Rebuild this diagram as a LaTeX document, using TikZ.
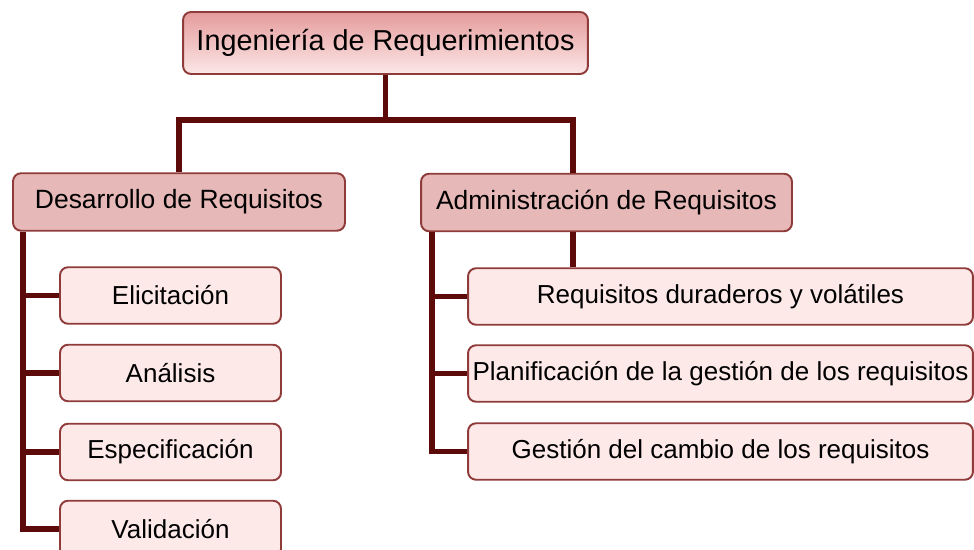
\documentclass[tikz,border=0pt]{standalone}
\usepackage{fontspec}
\setmainfont{Liberation Sans}

\definecolor{linkred}{HTML}{5C0A0A}
\definecolor{edgered}{HTML}{8E3B3A}
\definecolor{midfill}{HTML}{E6B8B7}
\definecolor{leaffill}{HTML}{FDE9E8}
\definecolor{topfillA}{HTML}{E59B9B}
\definecolor{topfillB}{HTML}{FCE7E7}

\tikzset{
  box/.style={draw=edgered, line width=1.1pt, rounded corners=0.16cm, inner sep=0pt, align=center},
  rootbox/.style={box, top color=topfillA, bottom color=topfillB, minimum width=8.1cm, minimum height=1.24cm, font=\fontsize{16.4}{19}\selectfont},
  groupbox/.style={box, fill=midfill, minimum height=1.15cm, font=\fontsize{15.05}{18}\selectfont},
  leafbox/.style={box, fill=leaffill, minimum height=1.13cm, font=\fontsize{14.8}{17}\selectfont},
  link/.style={draw=linkred, line width=3.4pt},
}

\begin{document}
\begin{tikzpicture}[x=0.02cm, y=-0.02cm]
    \useasboundingbox (0,0) rectangle (974,550);

    % Raíz
    \node[rootbox] (ing) at (385.5,43) {Ingeniería de Requerimientos};

    % Ramas
    \node[groupbox, minimum width=6.64cm] (des) at (179,202) {Desarrollo de Requisitos};
    \node[groupbox, minimum width=7.42cm] (adm) at (606.5,202.5) {Administración de Requisitos};

    % Desarrollo
    \node[leafbox, minimum width=4.42cm] (eli) at (170.5,295.5) {Elicitación};
    \node[leafbox, minimum width=4.42cm] (ana) at (170.5,373) {Análisis};
    \node[leafbox, minimum width=4.42cm] (esp) at (170.5,452) {Especificación};
    \node[leafbox, minimum width=4.42cm] (val) at (170.5,529) {Validación};

    % Administración
    \node[leafbox, minimum width=10.1cm] (dur) at (720.5,296.5) {Requisitos duraderos y volátiles};
    \node[leafbox, minimum width=10.1cm] (pla) at (720.5,373.5) {Planificación de la gestión de los requisitos};
    \node[leafbox, minimum width=10.1cm] (ges) at (720.5,451.5) {Gestión del cambio de los requisitos};

    % Conectores
    \coordinate (barR) at (573,120);
    \coordinate (spineL) at (23,0);
    \coordinate (spineR) at (432,0);
    \draw[link] (ing.south) -- (ing.south |- barR);
    \draw[link] (des.north) |- (barR) -- (adm.north -| barR);
    \draw[link] (adm.south -| barR) -- (dur.north -| barR);

    \draw[link] (des.south -| spineL) |- (val.west);
    \foreach \n in {eli,ana,esp}
        \draw[link] (\n.west -| spineL) -- (\n.west);

    \draw[link] (adm.south -| spineR) |- (ges.west);
    \foreach \n in {dur,pla}
        \draw[link] (\n.west -| spineR) -- (\n.west);
\end{tikzpicture}
\end{document}
